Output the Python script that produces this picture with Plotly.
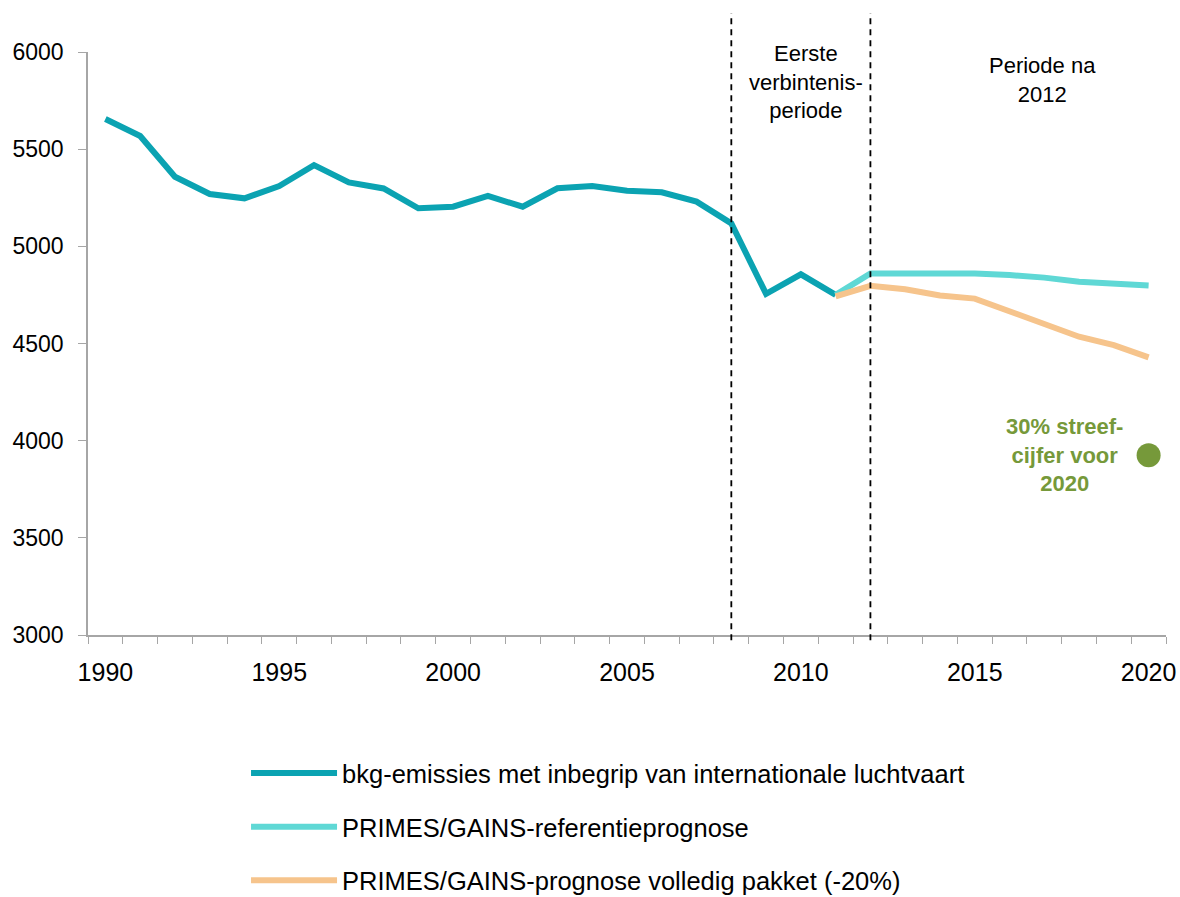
import plotly.graph_objects as go

years = list(range(1990, 2012))
emissions = [5655, 5568, 5358, 5269, 5247, 5310, 5418, 5329, 5298, 5196, 5204,
             5259, 5204, 5299, 5310, 5286, 5278, 5230, 5118, 4755, 4856, 4750]
proj_years = list(range(2011, 2021))
ref_proj = [4750, 4860, 4860, 4860, 4860, 4852, 4839, 4818, 4810, 4799]
pkg_proj = [4742, 4797, 4779, 4747, 4731, 4664, 4596, 4535, 4492, 4429]
target_year = [2020]
target_value = [3925]

names = ["bkg-emissies met inbegrip van internationale luchtvaart",
         "PRIMES/GAINS-referentieprognose",
         "PRIMES/GAINS-prognose volledig pakket (-20%)"]
colors = ["#0BA3B2", "#5FD8D5", "#F6C48C"]
green = "#76993A"
font = "Liberation Sans, Arial, sans-serif"

fig = go.Figure()
fig.add_trace(go.Scatter(x=years, y=emissions, mode="lines", name=names[0],
                         line=dict(color=colors[0], width=6), legendgroup="a"))
fig.add_trace(go.Scatter(x=proj_years, y=ref_proj, mode="lines", name=names[1],
                         line=dict(color=colors[1], width=6), legendgroup="b"))
fig.add_trace(go.Scatter(x=proj_years, y=pkg_proj, mode="lines", name=names[2],
                         line=dict(color=colors[2], width=6), legendgroup="c"))
fig.add_trace(go.Scatter(x=target_year, y=target_value, mode="markers", showlegend=False,
                         marker=dict(color=green, size=24), cliponaxis=False))

for xv in [2008, 2012]:
    fig.add_shape(type="line", xref="x", yref="paper", x0=xv, x1=xv, y0=-0.009, y1=1.067,
                  line=dict(color="black", width=1.8, dash="6px,5px"))

fig.add_annotation(x=2010.15, y=0.9485, xref="x", yref="paper", showarrow=False,
                   xanchor="center", yanchor="middle",
                   text="Eerste<br>verbintenis-<br>periode",
                   font=dict(family=font, size=22, color="black"), align="center")
fig.add_annotation(x=2016.95, y=0.952, xref="x", yref="paper", showarrow=False,
                   xanchor="center", yanchor="middle",
                   text="Periode na<br>2012",
                   font=dict(family=font, size=22, color="black"), align="center")
fig.add_annotation(x=2017.57, y=target_value[0], xref="x", yref="y", showarrow=False,
                   xanchor="center", yanchor="middle",
                   text="<b>30% streef-<br>cijfer voor<br>2020</b>",
                   font=dict(family=font, size=22, color=green), align="center")

fig.update_layout(
    width=1180, height=897,
    margin=dict(l=88, r=14, t=52, b=262),
    paper_bgcolor="white", plot_bgcolor="white",
    font=dict(family=font, size=22, color="black"),
    showlegend=True,
    legend=dict(x=0.1466, xref="paper", y=0.1639, yref="container",
                xanchor="left", yanchor="top",
                font=dict(family=font, size=25.5, color="black"),
                traceorder="grouped", tracegroupgap=17.5, itemwidth=86,
                bgcolor="rgba(0,0,0,0)"),
    xaxis=dict(range=[1989.5, 2020.5], tickmode="array",
               tickvals=[1990, 1995, 2000, 2005, 2010, 2015, 2020],
               ticks="", ticklabelstandoff=14,
               tickfont=dict(family=font, size=25, color="black"),
               showgrid=False, zeroline=False, showline=True,
               linecolor="#A6A6A6", linewidth=1.5, automargin=False,
               minor=dict(tick0=1989.5, dtick=1, ticks="outside", ticklen=7,
                          tickcolor="#A6A6A6", tickwidth=1.2, showgrid=False)),
    yaxis=dict(range=[3000, 6000], tickmode="linear", tick0=3000, dtick=500,
               ticks="outside", ticklen=8, tickcolor="#A6A6A6", tickwidth=1.2,
               ticklabelstandoff=10,
               tickfont=dict(family=font, size=23, color="black"),
               showgrid=False, zeroline=False, showline=True,
               linecolor="#A6A6A6", linewidth=1.5, automargin=False),
)

fig.write_html("out.html", config={"displayModeBar": False},
               post_script="document.body.style.margin='0';document.body.style.overflow='hidden';")
